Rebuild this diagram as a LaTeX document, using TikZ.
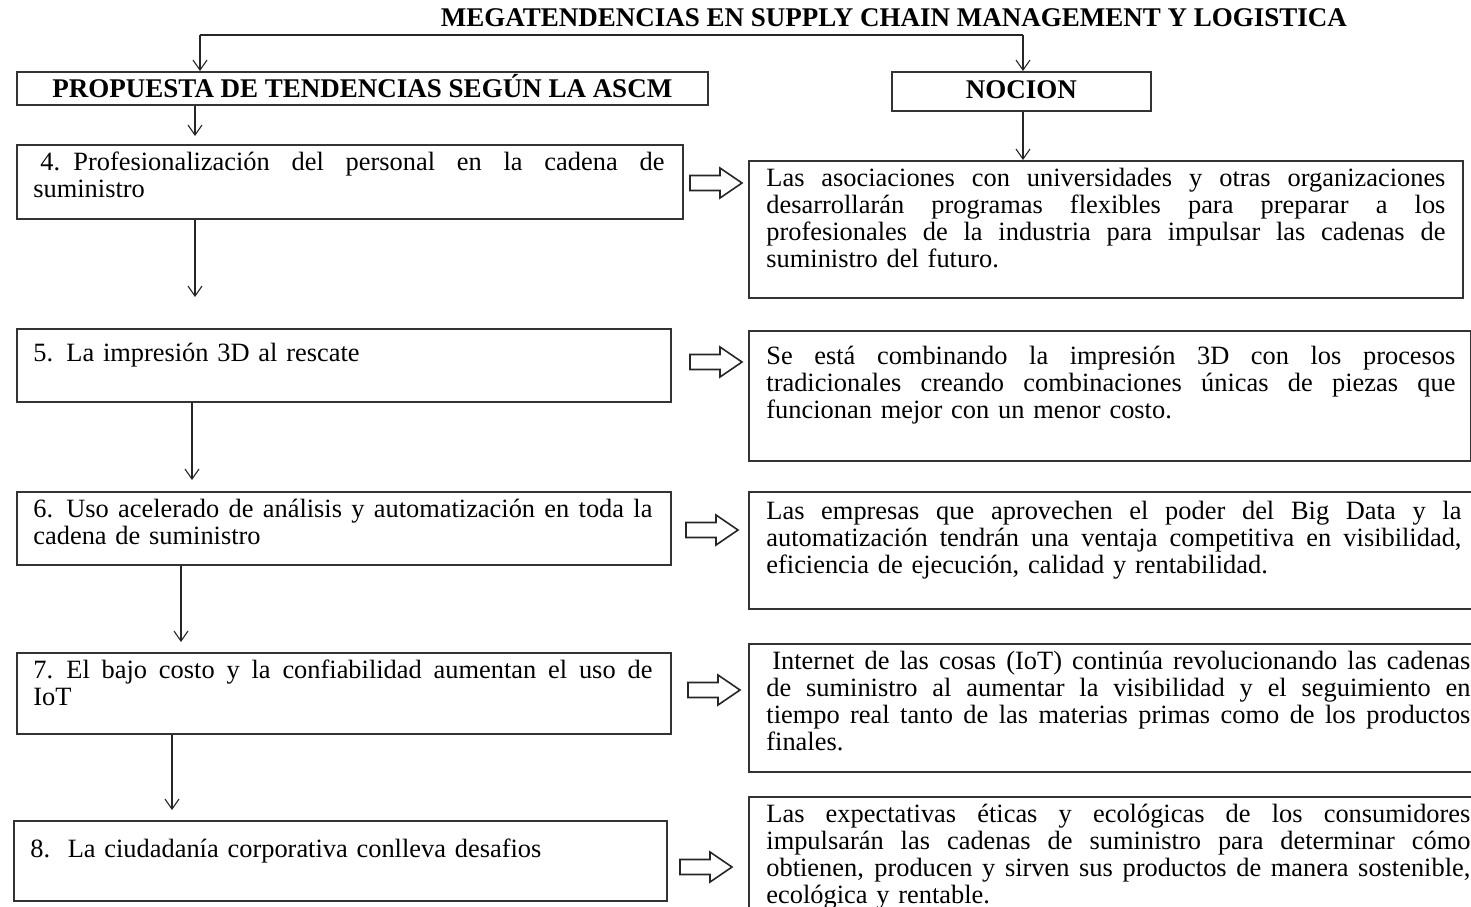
\documentclass[tikz,border=0pt]{standalone}
\usepackage{fontspec}
\setmainfont{Liberation Serif}
\usetikzlibrary{arrows.meta}

% body font used in every box
\newcommand\bodyfont{\fontsize{13.2pt}{13.5pt}\selectfont}
\newcommand\headfont{\fontsize{13.5pt}{13.5pt}\selectfont\bfseries}
% one fully justified line of a paragraph, of width #1
\newcommand\jl[2]{\leavevmode\hbox to #1{\spaceskip=0.25em plus 3em minus 0.05em\relax #2}\\}
% hollow block arrow starting at a coordinate (left end, vertical middle)
\newcommand\blockarrow[1]{%
  \draw[hollow] (#1) ++(0,-7.5) -- ++(30,0) -- ++(0,-7.5) -- ++(22,15)
    -- ++(-22,15) -- ++(0,-7.5) -- ++(-30,0) -- cycle;}

\begin{document}
\begin{tikzpicture}[x=0.5pt, y=-0.5pt,
  box/.style={draw=black!80, line width=0.9pt, inner sep=0pt, anchor=north west},
  head/.style={font=\headfont, text height=8.9pt, text depth=0pt},
  txt/.style={font=\bodyfont, inner sep=0pt, anchor=base west},
  arr/.style={draw=black!85, line width=0.55pt, -{Straight Barb[length=5pt,width=7pt]}},
  hollow/.style={draw=black!85, line width=0.8pt, fill=white, line join=miter}]

\useasboundingbox (0,0) rectangle (1471,906);

% title
\node[head, inner sep=0pt] (title) at (894,18) {MEGATENDENCIAS EN SUPPLY CHAIN MANAGEMENT Y LOGISTICA};

% column headers
\node[box, head, text depth=-1pt, minimum width=345.5pt, minimum height=16.5pt] (p) at (16,71)
  {PROPUESTA DE TENDENCIAS SEGÚN LA ASCM};
\node[box, head, text depth=2pt, minimum width=129.5pt, minimum height=19.5pt] (n) at (891,71) {NOCION};

% left column: trends
\node[box, minimum width=333pt, minimum height=37pt] (b4) at (16,144) {};
\node[box, minimum width=327pt, minimum height=36.5pt] (b5) at (16,328) {};
\node[box, minimum width=327pt, minimum height=36.5pt] (b6) at (16,491) {};
\node[box, minimum width=327pt, minimum height=40.5pt] (b7) at (16,652) {};
\node[box, minimum width=326.5pt, minimum height=40pt] (b8) at (13,820) {};

\node[txt, text width=315.5pt] (t4) at (33,170)
  {\jl{315.5pt}{\hspace*{3.5pt}4. Profesionalización del personal en la cadena de}suministro};
\node[txt, text width=309.5pt] (t5) at (33,361) {5. La impresión 3D al rescate};
\node[txt, text width=309.5pt] (t6) at (33,517)
  {\jl{309.5pt}{6. Uso acelerado de análisis y automatización en toda la}cadena de suministro};
\node[txt, text width=309.5pt] (t7) at (33,678)
  {\jl{309.5pt}{7. El bajo costo y la confiabilidad aumentan el uso de}IoT};
\node[txt, text width=309.5pt] (t8) at (30,857) {8.\ \ La ciudadanía corporativa conlleva desafios};

% right column: notions
\node[box, minimum width=357pt, minimum height=68.5pt] (r1) at (748,160) {};
\node[box, minimum width=361pt, minimum height=65pt] (r2) at (748,330) {};
\node[box, minimum width=370pt, minimum height=58.5pt] (r3) at (748,491) {};
\node[box, minimum width=370pt, minimum height=64pt] (r4) at (748,643) {};
\node[box, minimum width=370pt, minimum height=65pt] (r5) at (748,796) {};

\node[txt, text width=339.5pt] (s1) at (766,186)
  {\jl{339.5pt}{Las asociaciones con universidades y otras organizaciones}%
   \jl{339.5pt}{desarrollarán programas flexibles para preparar a los}%
   \jl{339.5pt}{profesionales de la industria para impulsar las cadenas de}%
   suministro del futuro.};
\node[txt, text width=344.5pt] (s2) at (766,364)
  {\jl{344.5pt}{Se está combinando la impresión 3D con los procesos}%
   \jl{344.5pt}{tradicionales creando combinaciones únicas de piezas que}%
   funcionan mejor con un menor costo.};
\node[txt, text width=347.5pt] (s3) at (766,519)
  {\jl{347.5pt}{Las empresas que aprovechen el poder del Big Data y la}%
   \jl{347.5pt}{automatización tendrán una ventaja competitiva en visibilidad,}%
   eficiencia de ejecución, calidad y rentabilidad.};
\node[txt, text width=352pt] (s4) at (766,669)
  {\jl{352pt}{\hspace*{3pt}Internet de las cosas (IoT) continúa revolucionando las cadenas}%
   \jl{352pt}{de suministro al aumentar la visibilidad y el seguimiento en}%
   \jl{352pt}{tiempo real tanto de las materias primas como de los productos}%
   finales.};
\node[txt, text width=352pt] (s5) at (766,822)
  {\jl{352pt}{Las expectativas éticas y ecológicas de los consumidores}%
   \jl{352pt}{impulsarán las cadenas de suministro para determinar cómo}%
   \jl{352pt}{obtienen, producen y sirven sus productos de manera sostenible,}%
   ecológica y rentable.};

% split from the title to both columns
\coordinate (tl) at (200,35);
\coordinate (tr) at (1023,35);
\draw[draw=black!85, line width=0.55pt] (tl) -- (tr);
\draw[arr] (tl) -- (tl |- p.north);
\draw[arr] (tr) -- (tr |- n.north);

% vertical flow of the left column
\coordinate (c4) at (195,0);
\coordinate (c5) at (192,0);
\coordinate (c6) at (181,0);
\coordinate (c7) at (172,0);
\draw[arr, shorten >=4pt] (p.south -| c4) -- (b4.north -| c4);
\draw[arr, shorten >=15.5pt] (b4.south -| c4) -- (b5.north -| c4);
\draw[arr, shorten >=5.5pt] (b5.south -| c5) -- (b6.north -| c5);
\draw[arr, shorten >=5pt] (b6.south -| c6) -- (b7.north -| c6);
\draw[arr, shorten >=5pt] (b7.south -| c7) -- (b8.north -| c7);

% header to first notion
\coordinate (cn) at (1023,0);
\draw[arr] (n.south -| cn) -- (r1.north -| cn);

% block arrows from each trend to its notion
\coordinate (h4) at (690,183);
\coordinate (h5) at (690,362);
\coordinate (h6) at (686,530);
\coordinate (h7) at (688,690);
\coordinate (h8) at (680,867);
\blockarrow{h4}
\blockarrow{h5}
\blockarrow{h6}
\blockarrow{h7}
\blockarrow{h8}
\end{tikzpicture}
\end{document}
